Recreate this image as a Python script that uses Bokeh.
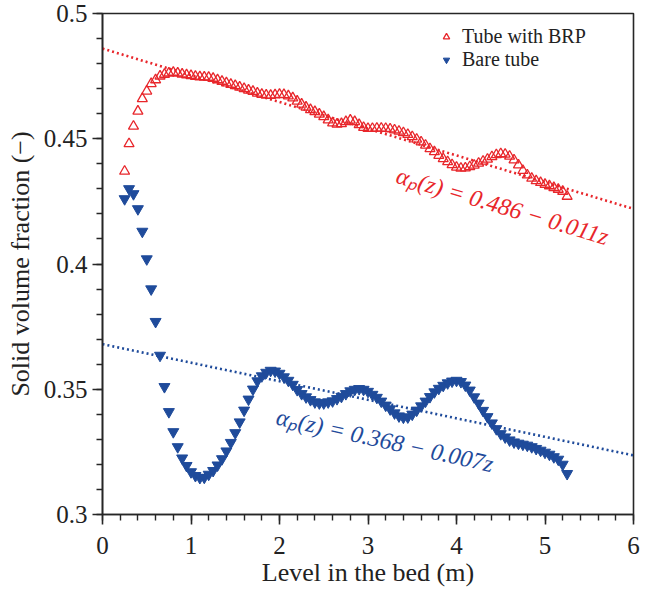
from bokeh.plotting import figure
from bokeh.models import (ColumnDataSource, Legend, LegendItem, FixedTicker,
                          CustomJSTickFormatter, Label, Range1d)
from bokeh.embed import file_html
from bokeh.resources import INLINE

# ---------------- data ----------------
level = [0.25, 0.30, 0.35, 0.40, 0.45, 0.50, 0.55, 0.60, 0.65, 0.70,
         0.75, 0.80, 0.85, 0.90, 0.95, 1.00, 1.05, 1.10, 1.15, 1.20,
         1.25, 1.30, 1.35, 1.40, 1.45, 1.50, 1.55, 1.60, 1.65, 1.70,
         1.75, 1.80, 1.85, 1.90, 1.95, 2.00, 2.05, 2.10, 2.15, 2.20,
         2.25, 2.30, 2.35, 2.40, 2.45, 2.50, 2.55, 2.60, 2.65, 2.70,
         2.75, 2.80, 2.85, 2.90, 2.95, 3.00, 3.05, 3.10, 3.15, 3.20,
         3.25, 3.30, 3.35, 3.40, 3.45, 3.50, 3.55, 3.60, 3.65, 3.70,
         3.75, 3.80, 3.85, 3.90, 3.95, 4.00, 4.05, 4.10, 4.15, 4.20,
         4.25, 4.30, 4.35, 4.40, 4.45, 4.50, 4.55, 4.60, 4.65, 4.70,
         4.75, 4.80, 4.85, 4.90, 4.95, 5.00, 5.05, 5.10, 5.15, 5.20,
         5.25]

tube_brp = [0.437, 0.448, 0.455, 0.461, 0.466, 0.469, 0.472, 0.4735, 0.4750, 0.4757,
            0.4762, 0.4765, 0.4762, 0.4758, 0.4755, 0.4752, 0.4749, 0.4747, 0.4746, 0.4745,
            0.4741, 0.4735, 0.4729, 0.4723, 0.4717, 0.4712, 0.4706, 0.4700, 0.4694, 0.4689,
            0.4682, 0.4677, 0.4674, 0.4673, 0.4675, 0.4677, 0.4676, 0.4671, 0.4663, 0.4650,
            0.4638, 0.4626, 0.4616, 0.4608, 0.4598, 0.4588, 0.4575, 0.4563, 0.4558, 0.4560,
            0.4568, 0.4574, 0.4568, 0.4556, 0.4545, 0.4541, 0.4541, 0.4542, 0.4542, 0.4541,
            0.4539, 0.4535, 0.4530, 0.4524, 0.4517, 0.4508, 0.4498, 0.4487, 0.4474, 0.4460,
            0.4448, 0.4433, 0.4420, 0.4408, 0.4396, 0.4386, 0.4382, 0.4383, 0.4388, 0.4394,
            0.4402, 0.4410, 0.4418, 0.4428, 0.4436, 0.4440, 0.4438, 0.4430, 0.4415, 0.4395,
            0.4373, 0.4355, 0.4342, 0.4332, 0.4325, 0.4318, 0.4312, 0.4305, 0.4298, 0.4290,
            0.4270]

bare_tube = [0.426, 0.430, 0.428, 0.422, 0.413, 0.402, 0.390, 0.377, 0.3635, 0.351,
             0.341, 0.333, 0.327, 0.3225, 0.3195, 0.317, 0.3155, 0.3147, 0.3148, 0.316,
             0.3175, 0.3197, 0.3222, 0.3253, 0.3287, 0.3326, 0.3369, 0.3416, 0.3460, 0.3500,
             0.3533, 0.3553, 0.3567, 0.3575, 0.3572, 0.3563, 0.3549, 0.3535, 0.3519, 0.3498,
             0.3482, 0.3469, 0.3458, 0.3449, 0.3445, 0.3445, 0.3449, 0.3453, 0.3462, 0.3471,
             0.3482, 0.3493, 0.3499, 0.3502, 0.3499, 0.3491, 0.3479, 0.3467, 0.3452, 0.3436,
             0.3421, 0.3405, 0.3393, 0.3388, 0.3389, 0.3400, 0.3416, 0.3433, 0.3452, 0.3470,
             0.3489, 0.3503, 0.3515, 0.3525, 0.3532, 0.3535, 0.3530, 0.3516, 0.3496, 0.3469,
             0.3444, 0.3415, 0.3390, 0.3365, 0.3342, 0.3322, 0.3309, 0.3297, 0.3289, 0.3284,
             0.3280, 0.3276, 0.3270, 0.3263, 0.3256, 0.3248, 0.3240, 0.3230, 0.3220, 0.3200,
             0.3163]

fit_x = [0.0, 6.0]
fit_brp = [0.486, 0.422]
fit_bare = [0.368, 0.3236]

series_names = ["Tube with BRP", "Bare tube"]
eq_brp = "αₚ(z) = 0.486 − 0.011z"
eq_bare = "αₚ(z) = 0.368 − 0.007z"
x_ticks = [0, 1, 2, 3, 4, 5, 6]
y_ticks = [0.3, 0.35, 0.4, 0.45, 0.5]

# ---------------- styling ----------------
RED = "#e8262b"
BLUE = "#1f4b9b"
SERIF = "Liberation Serif"
AX = "#262626"

W, H = 640, 592
B_LEFT, B_RIGHT, B_TOP, B_BOTTOM = 102, 7, 13, 78
FRAME_H = H - B_TOP - B_BOTTOM

p = figure(width=W, height=H, output_backend="svg", toolbar_location=None,
           x_range=Range1d(0, 6), y_range=Range1d(0.3, 0.5),
           min_border_left=B_LEFT, min_border_right=B_RIGHT,
           min_border_top=B_TOP, min_border_bottom=B_BOTTOM)
p.xgrid.visible = False
p.ygrid.visible = False
p.outline_line_color = AX
p.outline_line_width = 1.6
p.background_fill_color = "white"
p.border_fill_color = "white"

src = ColumnDataSource(dict(x=level, brp=tube_brp, bare=bare_tube))
fit_src = ColumnDataSource(dict(x=fit_x, brp=fit_brp, bare=fit_bare))

p.line("x", "brp", source=fit_src, line_color=RED, line_width=2.6, line_dash="2 3")
p.line("x", "bare", source=fit_src, line_color=BLUE, line_width=2.6, line_dash="2 3")

r_brp = p.scatter("x", "brp", source=src, marker="triangle", size=10,
                  fill_color=None, line_color=RED, line_width=1.3)
r_bare = p.scatter("x", "bare", source=src, marker="inverted_triangle", size=11,
                   fill_color=BLUE, line_color=BLUE, line_width=1)

# axes
for ax in (p.xaxis[0], p.yaxis[0]):
    ax.axis_line_color = AX
    ax.axis_line_width = 1.6
    ax.major_tick_line_color = AX
    ax.minor_tick_line_color = AX
    ax.major_tick_line_width = 1.6
    ax.minor_tick_line_width = 1.4
    ax.major_tick_in = 0
    ax.major_tick_out = 10
    ax.minor_tick_in = 0
    ax.minor_tick_out = 6
    ax.major_label_text_font = SERIF
    ax.major_label_text_font_size = "25px"
    ax.major_label_text_color = "#222222"
    ax.axis_label_text_font = SERIF
    ax.axis_label_text_font_size = "26px"
    ax.axis_label_text_font_style = "normal"
    ax.axis_label_text_color = "#222222"

p.xaxis.ticker = FixedTicker(ticks=x_ticks,
                             minor_ticks=[round(i * 0.2, 1) for i in range(31)])
p.yaxis.ticker = FixedTicker(ticks=y_ticks,
                             minor_ticks=[round(0.3 + i * 0.01, 2) for i in range(21)])
p.yaxis.formatter = CustomJSTickFormatter(
    code="return tick.toFixed(2).replace(/0$/, '');")
p.xaxis.formatter = CustomJSTickFormatter(code="return tick.toFixed(0);")
p.xaxis.major_label_standoff = 12
p.yaxis.major_label_standoff = 5
p.xaxis.axis_label = "Level in the bed (m)"
p.yaxis.axis_label = "Solid volume fraction (−)"
p.xaxis.axis_label_standoff = 1
p.yaxis.axis_label_standoff = 6

# equations
for txt, x, y, ang, col in ((eq_brp, 4.52, 0.4231, -16.5, RED),
                            (eq_bare, 3.19, 0.3296, -12.5, BLUE)):
    p.add_layout(Label(x=x, y=y, text=txt, angle=ang, angle_units="deg",
                       text_align="center", text_baseline="middle",
                       text_font=SERIF, text_font_style="italic",
                       text_font_size="24px", text_color=col))

# legend: two rows near the top of the frame
ROW = 23
legend = Legend(items=[LegendItem(label=series_names[0], renderers=[r_brp]),
                       LegendItem(label=series_names[1], renderers=[r_bare])],
                location=(336, FRAME_H - 12 - 2 * ROW), orientation="vertical",
                label_text_font=SERIF, label_text_font_size="20px",
                label_text_color="#222222",
                glyph_width=16, glyph_height=ROW, label_height=ROW,
                label_standoff=8, spacing=0, padding=0, margin=0,
                border_line_alpha=0, background_fill_alpha=0)
p.add_layout(legend)

open("out.html", "w").write(file_html(p, INLINE))
